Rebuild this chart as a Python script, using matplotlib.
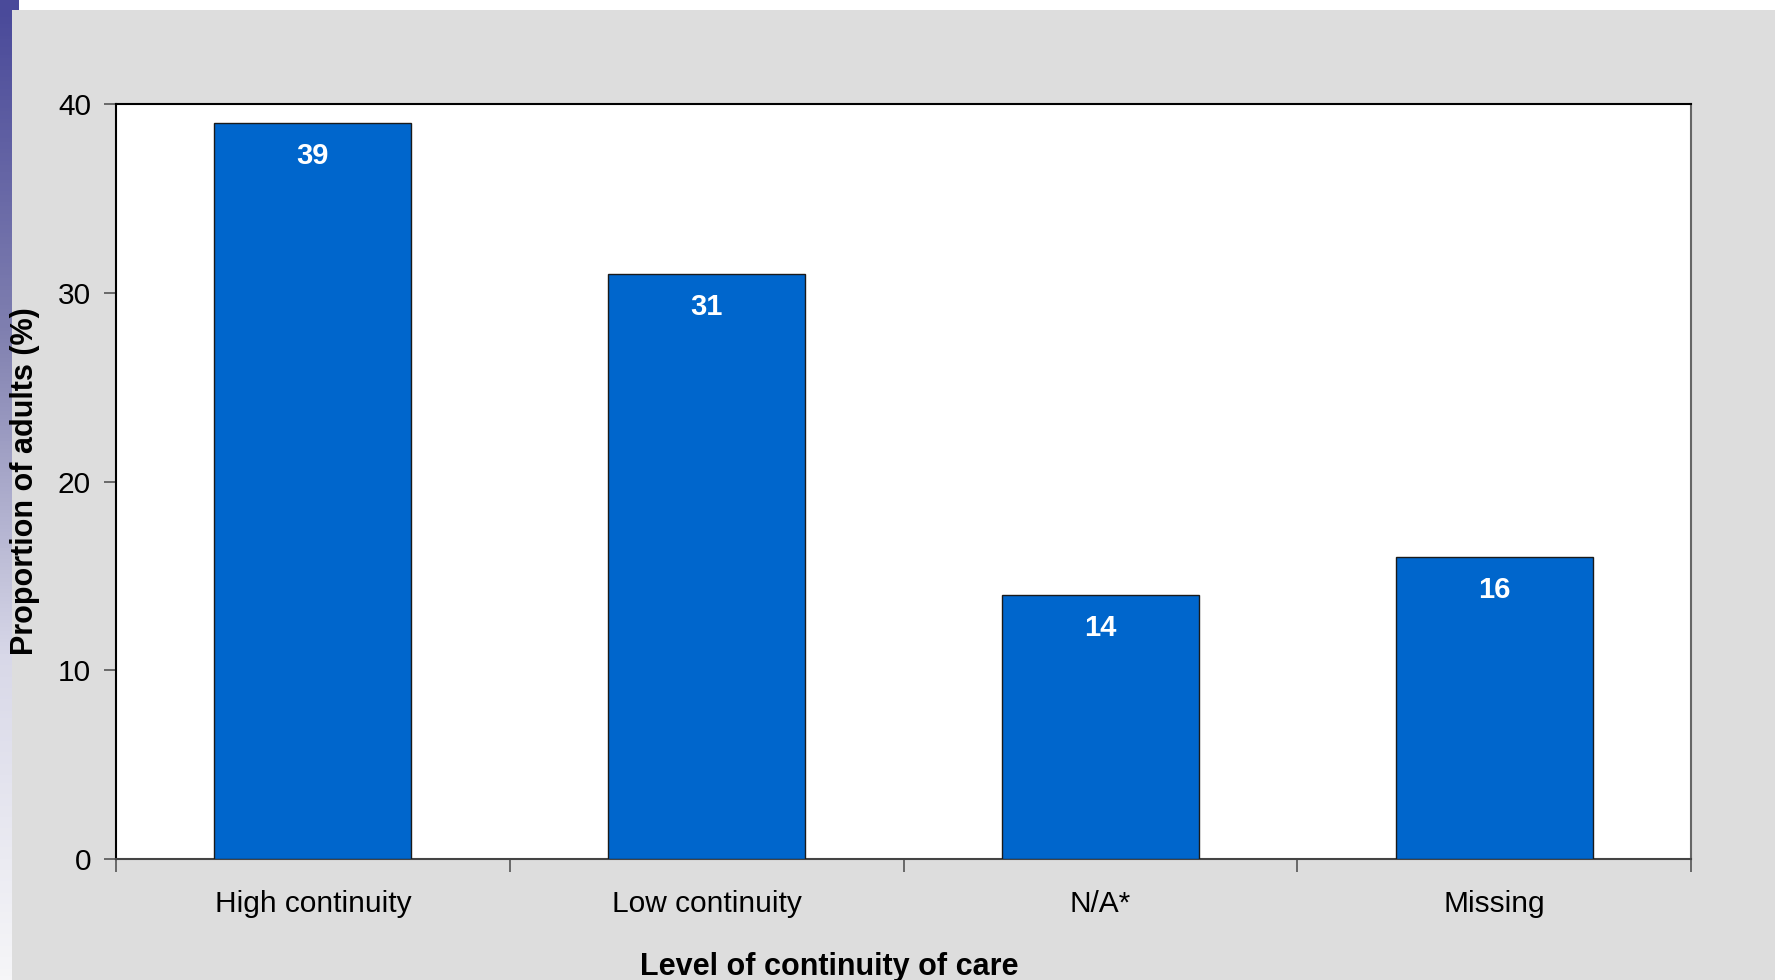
import numpy as np
import matplotlib
matplotlib.use("Agg")
import matplotlib.pyplot as plt
from matplotlib.colors import LinearSegmentedColormap

plt.rcParams['font.family'] = ['Liberation Sans', 'DejaVu Sans']

categories = ["High continuity", "Low continuity", "N/A*", "Missing"]
proportions = [39, 31, 14, 16]
y_ticks = [0, 10, 20, 30, 40]

W, H = 1775, 980
fig = plt.figure(figsize=(W / 100, H / 100), dpi=100)
fig.patch.set_facecolor("white")

# grey slide background below a thin white band
bg = fig.add_axes([12 / W, 0, 1 - 12 / W, 1 - 10 / H])
bg.set_facecolor("#DDDDDD")
bg.set_xticks([]); bg.set_yticks([])
for s in bg.spines.values():
    s.set_visible(False)

# purple-to-white gradient strip on the left edge
strip = fig.add_axes([0, 0, 12 / W, 1 - 10 / H])
cmap = LinearSegmentedColormap.from_list("edge", ["#4A4A9A", "#8080B0", "#D8D8E8", "#F6F6F8"])
grad = np.linspace(0, 1, 256).reshape(-1, 1)
strip.imshow(grad, aspect="auto", cmap=cmap, extent=[0, 1, 0, 1], origin="upper")
strip.axis("off")
corner = fig.add_axes([0, 1 - 10 / H, 19 / W, 10 / H])
corner.set_facecolor("#4A4A9A")
corner.set_xticks([]); corner.set_yticks([])
for s in corner.spines.values():
    s.set_visible(False)

# main chart
left, right, top, bottom = 116, 1691, 104, 859
ax = fig.add_axes([left / W, 1 - bottom / H, (right - left) / W, (bottom - top) / H])
ax.set_facecolor("white")

x = np.arange(len(categories))
bars = ax.bar(x, proportions, width=0.5, color="#0066CC", edgecolor="#1a1a1a", linewidth=1.0, zorder=3)
for xi, v in zip(x, proportions):
    ax.text(xi, v - 1.75, f"{v}", ha="center", va="center", color="white",
            fontsize=21, fontweight="bold", zorder=4)

ax.set_xlim(-0.5, len(categories) - 0.5)
ax.set_ylim(0, 40)
ax.set_yticks(y_ticks)
ax.set_yticklabels([str(t) for t in y_ticks])
ax.set_xticks(x)
ax.set_xticklabels(categories)
ax.set_xticks(np.arange(len(categories) + 1) - 0.5, minor=True)
ax.tick_params(axis="x", which="major", length=0, pad=22, labelsize=21.5)
ax.tick_params(axis="x", which="minor", length=9, width=1.2, color="#555555")
ax.tick_params(axis="y", length=9, width=1.2, color="#555555", labelsize=21.5, pad=9)

ax.spines["top"].set_color("black")
ax.spines["left"].set_color("black")
ax.spines["right"].set_color("#666666")
ax.spines["bottom"].set_color("#444444")
for s in ax.spines.values():
    s.set_linewidth(1.5)

ax.set_xlabel("Level of continuity of care", fontsize=22, fontweight="bold")
ax.xaxis.set_label_coords(0.453, -0.123)
ax.set_ylabel("Proportion of adults (%)", fontsize=22, fontweight="bold")
ax.yaxis.set_label_coords(-0.048, 0.5)

fig.savefig("out.png", dpi=100, facecolor=fig.get_facecolor())
